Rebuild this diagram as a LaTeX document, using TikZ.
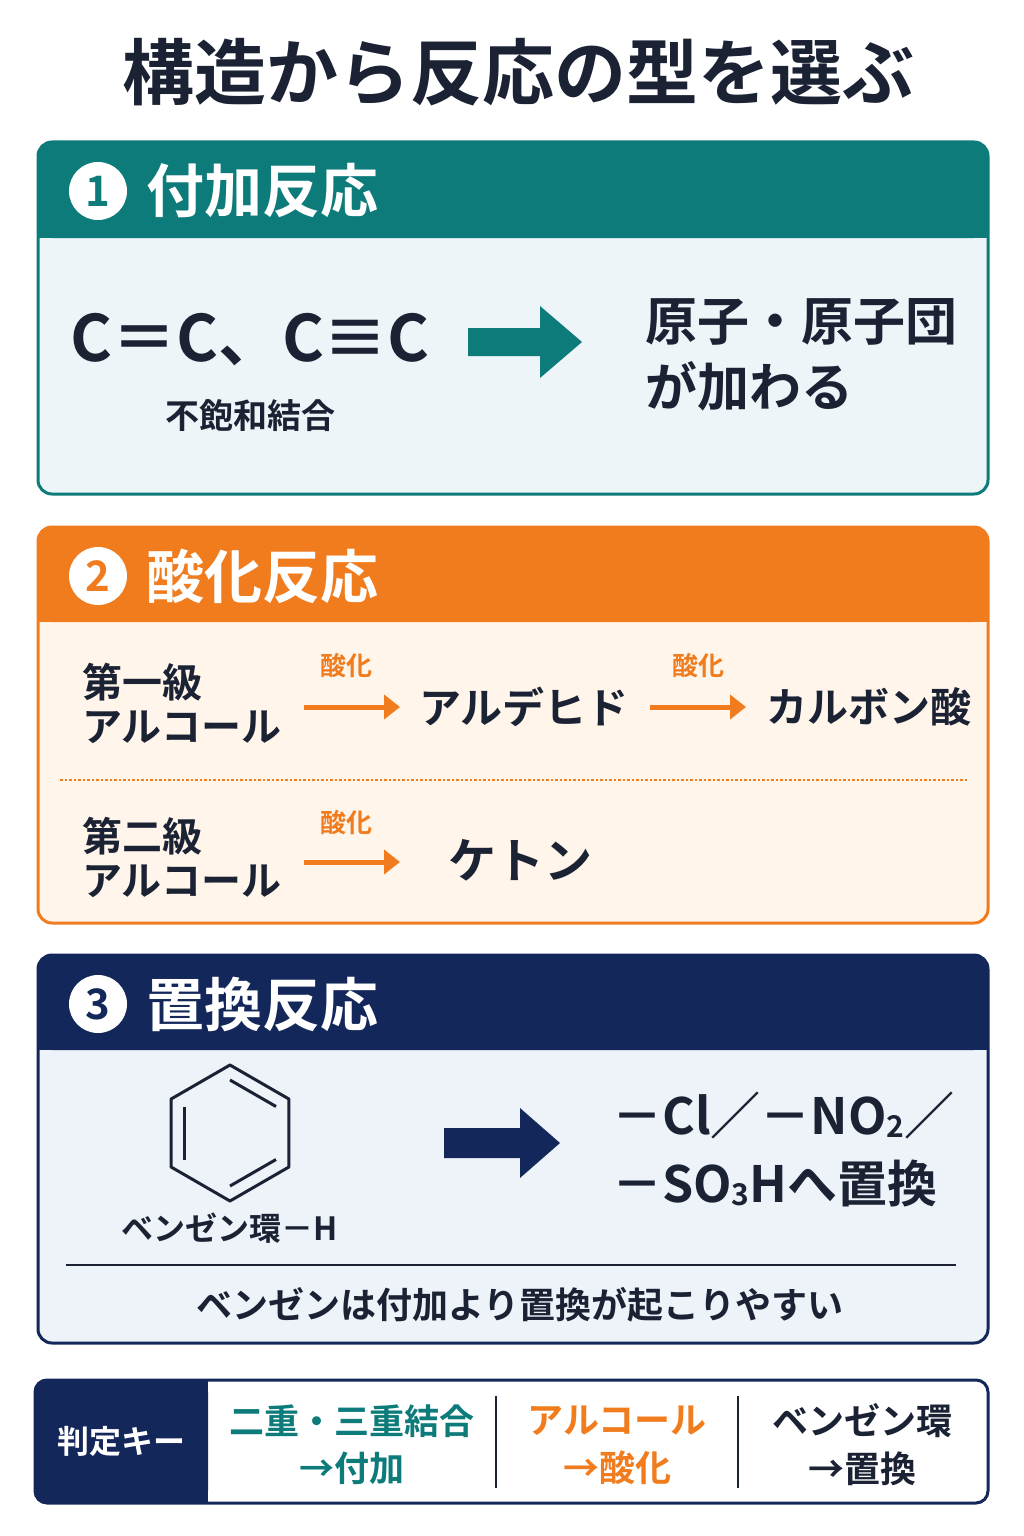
\documentclass[tikz,border=0pt]{standalone}
\usepackage{fontspec}
\usetikzlibrary{arrows.meta,calc}
\setmainfont{Noto Sans CJK JP}[BoldFont={Noto Sans CJK JP Bold}]
\definecolor{teal1}{HTML}{0E7B7B}
\definecolor{orng}{HTML}{F07C1E}
\definecolor{navy}{HTML}{13275A}
\definecolor{ink}{HTML}{1A2233}
\definecolor{bg1}{HTML}{EEF5F8}
\definecolor{bg2}{HTML}{FFF5EA}
\definecolor{bg3}{HTML}{EEF3FA}
\newcommand{\fs}[1]{\fontsize{#1}{#1}\selectfont}
\newcommand{\sbs}[1]{\raisebox{-3pt}{\fs{30}#1}}
\begin{document}
\begin{tikzpicture}[x=1pt,y=-1pt,
 txt/.style={text=ink,font=\bfseries,inner sep=0pt},
 hdr/.style={text=white,font=\bfseries\fs{58},anchor=west,inner sep=0pt},
 num/.style={circle,fill=white,minimum size=58pt,inner sep=0pt,font=\bfseries\fs{42}},
 oarr/.style={orng,line width=5pt,-{Triangle[length=16pt,width=24pt]}}]
\useasboundingbox (0,0) rectangle (1024,1536);
\fill[white] (0,0) rectangle (1024,1536);
\node[txt,font=\bfseries\fs{72}] (title) at (518,72) {構造から反応の型を選ぶ};
% box 1
\draw[teal1,line width=3pt,fill=bg1,rounded corners=14pt] (38,142) rectangle (988,494);
\fill[teal1,rounded corners=14pt] (38,142) rectangle (988,238);
\fill[teal1] (38,200) rectangle (988,238);
\node[num,text=teal1] (n1) at (98,191) {1};
\node[hdr] (h1) at (146,191) {付加反応};
\node[txt,font=\bfseries\fs{64}] (f1) at (250,340) {C＝C、C≡C};
\node[txt,font=\bfseries\fs{34}] (f1s) at (250,416) {不飽和結合};
\fill[teal1] (468,328) -- (540,328) -- (540,306) -- (582,342) -- (540,378) -- (540,356) -- (468,356) -- cycle;
\node[txt,font=\bfseries\fs{52},align=left,anchor=west] (r1) at (645,355) {原子・原子団\\[14pt]が加わる};
% box 2
\draw[orng,line width=3pt,fill=bg2,rounded corners=14pt] (38,527) rectangle (988,923);
\fill[orng,rounded corners=14pt] (38,527) rectangle (988,622);
\fill[orng] (38,585) rectangle (988,622);
\node[num,text=orng] (n2) at (98,576) {2};
\node[hdr] (h2) at (146,576) {酸化反応};
\node[txt,font=\bfseries\fs{40},align=left,anchor=west] (p1) at (82,703) {第一級\\[4pt]アルコール};
\node[txt,font=\bfseries\fs{26},text=orng] (o1) at (346,666) {酸化};
\draw[oarr] (304,707) -- (400,707);
\node[txt,font=\bfseries\fs{42}] (ald) at (524,707) {アルデヒド};
\node[txt,font=\bfseries\fs{26},text=orng] (o2) at (698,666) {酸化};
\draw[oarr] (650,707) -- (746,707);
\node[txt,font=\bfseries\fs{41},anchor=west] (acid) at (766,707) {カルボン酸};
\draw[orng,line width=2.5pt,dotted] (60,780) -- (968,780);
\node[txt,font=\bfseries\fs{40},align=left,anchor=west] (p2) at (82,857) {第二級\\[4pt]アルコール};
\node[txt,font=\bfseries\fs{26},text=orng] (o3) at (346,823) {酸化};
\draw[oarr] (304,862) -- (400,862);
\node[txt,font=\bfseries\fs{48},anchor=west] (ket) at (448,860) {ケトン};
% box 3
\draw[navy,line width=3pt,fill=bg3,rounded corners=14pt] (38,955) rectangle (988,1343);
\fill[navy,rounded corners=14pt] (38,955) rectangle (988,1050);
\fill[navy] (38,1010) rectangle (988,1050);
\node[num,text=navy] (n3) at (98,1004) {3};
\node[hdr] (h3) at (146,1004) {置換反応};
\draw[ink,line width=3pt,line join=round] (230,1065) -- (288.9,1099) -- (288.9,1167) -- (230,1201) -- (171.1,1167) -- (171.1,1099) -- cycle;
\draw[ink,line width=3pt] (230,1080) -- (276,1106.5);
\draw[ink,line width=3pt] (276,1159.5) -- (230,1186);
\draw[ink,line width=3pt] (184,1159.5) -- (184,1106.5);
\node[txt,font=\bfseries\fs{32}] (bzl) at (230,1228) {ベンゼン環－H};
\fill[navy] (444,1128) -- (520,1128) -- (520,1108) -- (560,1143) -- (520,1178) -- (520,1158) -- (444,1158) -- cycle;
\node[txt,font=\bfseries\fs{50},anchor=west] (s1) at (612,1115) {－Cl／－NO\sbs{2}／};
\node[txt,font=\bfseries\fs{50},anchor=west] (s2) at (612,1183) {－SO\sbs{3}Hへ置換};
\draw[ink,line width=2pt] (66,1265) -- (956,1265);
\node[txt,font=\bfseries\fs{36}] (note) at (520,1305) {ベンゼンは付加より置換が起こりやすい};
% key
\draw[navy,line width=3pt,fill=white,rounded corners=12pt] (35,1380) rectangle (988,1503);
\fill[navy,rounded corners=12pt] (35,1380) rectangle (208,1503);
\fill[navy] (180,1380) rectangle (208,1503);
\node[text=white,font=\bfseries\fs{32}] (key) at (121,1441) {判定キー};
\node[txt,font=\bfseries\fs{35},text=teal1,align=center] (k1) at (352,1445) {二重・三重結合\\[12pt]→付加};
\draw[ink,line width=2pt] (496,1396) -- (496,1488);
\node[txt,font=\bfseries\fs{36},text=orng,align=center] (k2) at (617,1445) {アルコール\\[12pt]→酸化};
\draw[ink,line width=2pt] (738,1396) -- (738,1488);
\node[txt,font=\bfseries\fs{36},align=center] (k3) at (862,1445) {ベンゼン環\\[12pt]→置換};
\end{tikzpicture}
\end{document}
